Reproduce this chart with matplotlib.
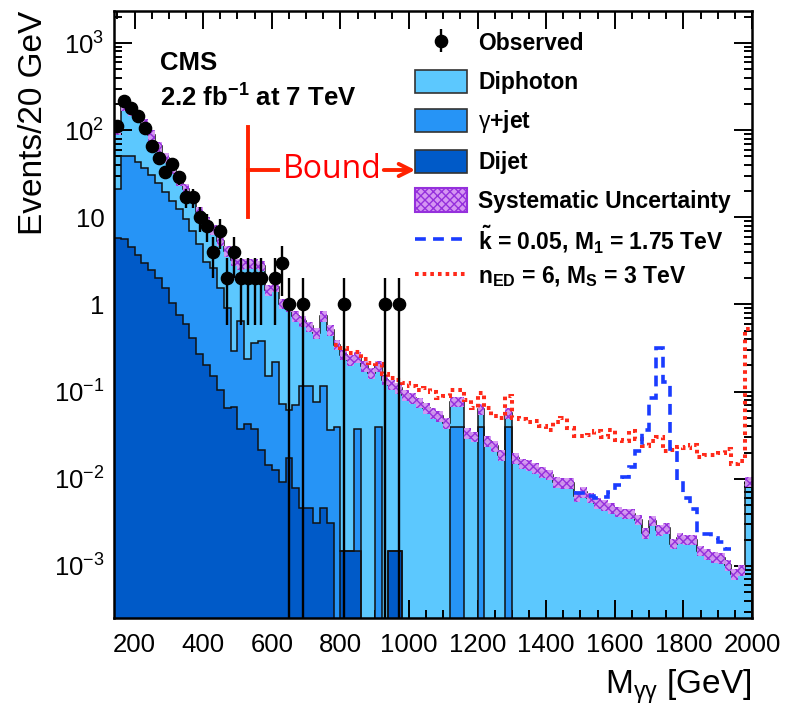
import numpy as np
import matplotlib
matplotlib.use("Agg")
import matplotlib.pyplot as plt
from matplotlib.patches import Patch
from matplotlib.lines import Line2D
from matplotlib.ticker import FixedLocator, FixedFormatter, MultipleLocator, LogLocator, NullFormatter

plt.rcParams['font.family'] = ['Liberation Sans', 'DejaVu Sans']
plt.rcParams['mathtext.fontset'] = 'custom'
plt.rcParams['mathtext.rm'] = 'Liberation Sans'
plt.rcParams['mathtext.bf'] = 'Liberation Sans:bold'
plt.rcParams['mathtext.it'] = 'Liberation Sans:italic'
plt.rcParams['hatch.linewidth'] = 1.0

# ---------------- data ----------------
mass_low, mass_high, bin_width = 140, 2000, 20

dijet = [5.8, 5.6, 4.6, 3.7, 3.0, 2.5, 2.0, 1.55, 1.05, 0.75,
         0.59, 0.41, 0.27, 0.2, 0.15, 0.105, 0.065, 0.066, 0.037, 0.042,
         0.037, 0.0215, 0.0144, 0.0127, 0.0093, 0.0173, 0.0078, 0.0046, 0.0046, 0.0031,
         0.0046, 0.0031, 0.0, 0.0015, 0.0015, 0.0015, 0.0, 0.0, 0.0, 0.0,
         0.0015, 0.0015, 0.0, 0.0, 0.0, 0.0, 0.0, 0.0, 0.0, 0.0,
         0.0, 0.0, 0.0, 0.0, 0.0, 0.0, 0.0, 0.0, 0.0, 0.0,
         0.0, 0.0, 0.0, 0.0, 0.0, 0.0, 0.0, 0.0, 0.0, 0.0,
         0.0, 0.0, 0.0, 0.0, 0.0, 0.0, 0.0, 0.0, 0.0, 0.0,
         0.0, 0.0, 0.0, 0.0, 0.0, 0.0, 0.0, 0.0, 0.0, 0.0,
         0.0, 0.0, 0.0]

gamma_jet = [15.2, 44.4, 46.4, 39.3, 34.0, 28.5, 23.0, 17.9, 14.4, 11.7,
             8.9, 6.6, 4.7, 2.9, 2.45, 1.45, 0.845, 0.224, 0.613, 0.198,
             0.323, 0.356, 0.135, 0.209, 0.062, 0.045, 0.063, 0.110, 0.110, 0.074,
             0.110, 0.033, 0.039, 0.0, 0.0, 0.036, 0.0, 0.0, 0.039, 0.0,
             0.0, 0.0, 0.0, 0.0, 0.0, 0.0, 0.0, 0.0, 0.0, 0.039,
             0.039, 0.0, 0.0, 0.039, 0.0, 0.0, 0.0, 0.039, 0.0, 0.0,
             0.0, 0.0, 0.0, 0.0, 0.0, 0.0, 0.0, 0.0, 0.0, 0.0,
             0.0, 0.0, 0.0, 0.0, 0.0, 0.0, 0.0, 0.0, 0.0, 0.0,
             0.0, 0.0, 0.0, 0.0, 0.0, 0.0, 0.0, 0.0, 0.0, 0.0,
             0.0, 0.0, 0.0]

diphoton = [82, 145, 117, 107, 80, 56, 40, 29, 21.5, 14.5,
            11.5, 10.0, 6.5, 5.7, 4.6, 3.85, 3.19, 2.91, 2.25, 2.71,
            2.59, 2.42, 1.30, 1.38, 0.95, 0.89, 0.66, 0.525, 0.445, 0.393,
            0.615, 0.474, 0.306, 0.2635, 0.2305, 0.2095, 0.195, 0.163, 0.156, 0.137,
            0.1185, 0.1085, 0.092, 0.084, 0.075, 0.065, 0.0567, 0.052, 0.0435, 0.038,
            0.038, 0.0335, 0.0306, 0.0245, 0.027, 0.0236, 0.0188, 0.0177, 0.0173, 0.0149,
            0.0144, 0.0133, 0.0120, 0.0112, 0.0092, 0.0090, 0.0089, 0.0063, 0.0070, 0.0061,
            0.0053, 0.0050, 0.0046, 0.0042, 0.0040, 0.0040, 0.0034, 0.0024, 0.0033, 0.0026,
            0.0027, 0.0018, 0.0021, 0.0020, 0.0020, 0.0015, 0.00137, 0.00126, 0.00124, 0.00103,
            0.00080, 0.00090, 0.0093]

syst_fraction = 0.14

obs_mass = [150, 170, 190, 210, 230, 250, 270, 290, 310, 330, 350, 370, 390, 410, 430,
            450, 470, 490, 510, 530, 550, 570, 610, 630, 650, 690, 810, 930, 970]
obs_count = [113, 217, 178, 146, 105, 65, 48, 33, 41, 29, 17, 17, 10, 8, 4,
             7, 2, 4, 2, 2, 2, 2, 2, 3, 1, 1, 1, 1, 1]

# ADD (n_ED = 6, M_S = 3 TeV) signal + background, from 780 GeV
add_start = 780
add_total = [0.34, 0.315, 0.28, 0.285, 0.24, 0.215, 0.205, 0.16, 0.145, 0.135,
             0.125, 0.115, 0.105, 0.11, 0.10, 0.085, 0.09, 0.105, 0.105, 0.08,
             0.065, 0.096, 0.065, 0.052, 0.05, 0.09, 0.05, 0.049, 0.045, 0.046,
             0.04, 0.036, 0.045, 0.05, 0.038, 0.031, 0.031, 0.032, 0.035, 0.030,
             0.036, 0.028, 0.027, 0.035, 0.029, 0.024, 0.027, 0.030, 0.021, 0.0216,
             0.023, 0.0225, 0.0246, 0.018, 0.019, 0.0188, 0.0196, 0.022, 0.0146, 0.016,
             0.53]

# RS graviton (k~ = 0.05, M1 = 1.75 TeV) signal + background, from 1480 GeV
rs_start = 1480
rs_total = [0.0068, 0.0068, 0.0063, 0.0060, 0.0062, 0.0070, 0.0085, 0.0105, 0.0135, 0.021,
            0.036, 0.085, 0.315, 0.13, 0.022, 0.0095, 0.006, 0.0045, 0.0023, 0.0023,
            0.0021, 0.0019, 0.00155]

ytick_vals = [1e-3, 1e-2, 1e-1, 1, 10, 100, 1000]
ytick_labels = ['10$^{-3}$', '10$^{-2}$', '10$^{-1}$', '1', '10', '10$^{2}$', '10$^{3}$']
xtick_vals = [200, 400, 600, 800, 1000, 1200, 1400, 1600, 1800, 2000]

# ---------------- style ----------------
c_diphoton = '#5cc8fe'
c_gjet = '#2694f6'
c_dijet = '#005ac8'
c_band_face = '#d596f2'
c_band_hatch = '#9530dc'
c_add = '#ff2a1a'
c_rs = '#1a3cff'
ls_add = (0, (0.9, 1.0))
ls_rs = (0, (3.0, 2.0))

W, H = 793, 706
fig = plt.figure(figsize=(W / 100, H / 100), dpi=100)
ax_l, ax_r, ax_t, ax_b = 114, 752, 11, 618
ax = fig.add_axes([ax_l / W, 1 - ax_b / H, (ax_r - ax_l) / W, (ax_b - ax_t) / H])

edges = np.arange(mass_low, mass_high + bin_width, bin_width)
floor = 1e-6
d = np.array(dijet)
g = np.array(gamma_jet)
p = np.array(diphoton)
cum1 = d
cum2 = d + g
cum3 = d + g + p

for vals, col, z in [(cum3, c_diphoton, 1), (cum2, c_gjet, 2), (cum1, c_dijet, 3)]:
    ax.stairs(np.maximum(vals, floor), edges, baseline=floor, fill=True,
              facecolor=col, edgecolor='none', zorder=z)
for vals in [cum3, cum2, cum1]:
    ax.stairs(np.maximum(vals, floor), edges, baseline=floor, fill=False,
              color='#111111', lw=1.1, zorder=4)

# systematic band
ax.stairs(cum3 * (1 + syst_fraction), edges, baseline=cum3 * (1 - syst_fraction),
          fill=True, facecolor=c_band_face, edgecolor='none', alpha=0.95, zorder=5)
ax.stairs(cum3 * (1 + syst_fraction), edges, baseline=cum3 * (1 - syst_fraction),
          fill=True, facecolor='none', edgecolor=c_band_hatch, hatch='xxxx', lw=0, zorder=5)

# signal lines
i_add = (add_start - mass_low) // bin_width
ax.stairs(add_total, edges[i_add:i_add + len(add_total) + 1], baseline=None,
          color=c_add, lw=2.9, linestyle=ls_add, zorder=6)
i_rs = (rs_start - mass_low) // bin_width
ax.stairs(rs_total, edges[i_rs:i_rs + len(rs_total) + 1], baseline=None,
          color=c_rs, lw=2.6, linestyle=ls_rs, zorder=6)

# observed
oc = np.array(obs_count, dtype=float)
err = np.sqrt(oc)
lower = np.minimum(err, oc - 1e-6)
obs = ax.errorbar(obs_mass, oc, yerr=[lower, err], fmt='o', color='black',
                  ms=8.8, elinewidth=1.7, capsize=0, zorder=10)

ax.set_yscale('log')
ax.set_xlim(mass_low, mass_high)
ax.set_ylim(2.53e-4, 2330)

ax.yaxis.set_major_locator(FixedLocator(ytick_vals))
ax.yaxis.set_major_formatter(FixedFormatter(ytick_labels))
ax.yaxis.set_minor_locator(LogLocator(base=10, subs=np.arange(2, 10)))
ax.yaxis.set_minor_formatter(NullFormatter())
ax.xaxis.set_major_locator(FixedLocator(xtick_vals))
ax.xaxis.set_minor_locator(MultipleLocator(50))

ax.tick_params(which='both', direction='in', top=True, right=True, width=1.4, colors='black')
ax.tick_params(which='major', length=13, labelsize=18.5)
ax.tick_params(which='minor', length=6)
ax.tick_params(axis='x', which='major', pad=11)
ax.tick_params(axis='y', which='major', pad=7)
for s in ax.spines.values():
    s.set_linewidth(1.8)
    s.set_zorder(20)

ax.set_ylabel('Events/20 GeV', fontsize=24, loc='top', labelpad=3)
ax.set_xlabel(r'M$_{\mathrm{\gamma\gamma}}$ [GeV]', fontsize=24, loc='right', labelpad=7)

# legend (two blocks so the rows keep the reference spacing)
handles_a = [obs,
             Patch(facecolor=c_diphoton, edgecolor='#333333', lw=1.2),
             Patch(facecolor=c_gjet, edgecolor='#333333', lw=1.2),
             Patch(facecolor=c_dijet, edgecolor='#333333', lw=1.2),
             Patch(facecolor=c_band_face, edgecolor=c_band_hatch, hatch='xxxx', lw=1.5)]
labels_a = ['Observed', 'Diphoton', r'$\mathrm{\gamma}$+jet', 'Dijet', 'Systematic Uncertainty']
handles_b = [Line2D([], [], color=c_rs, lw=2.6, linestyle=ls_rs),
             Line2D([], [], color=c_add, lw=2.9, linestyle=ls_add)]
labels_b = [r'$\mathbf{\tilde{k}}$ = 0.05, M$_{\mathbf{1}}$ = 1.75 TeV',
            r'n$_{\mathbf{ED}}$ = 6, M$_{\mathbf{S}}$ = 3 TeV']
common = dict(loc='upper left', frameon=False, borderpad=0, borderaxespad=0,
              handlelength=2.27, handleheight=1.2, handletextpad=0.48,
              prop={'weight': 'bold', 'size': 16.5})
leg_a = ax.legend(handles_a, labels_a, labelspacing=0.62,
                  bbox_to_anchor=((415 - ax_l) / (ax_r - ax_l), (ax_b - 31) / (ax_b - ax_t)),
                  **common)
leg_a.set_zorder(30)
ax.add_artist(leg_a)
leg_b = ax.legend(handles_b, labels_b, labelspacing=0.4,
                  bbox_to_anchor=((415 - ax_l) / (ax_r - ax_l), (ax_b - 223) / (ax_b - ax_t)),
                  **common)
leg_b.set_zorder(30)

# CMS label
fig.text(160 / W, 1 - 63 / H, 'CMS', fontsize=18.5, fontweight='bold', va='center', ha='left')
fig.text(160 / W, 1 - 98 / H, r'2.2 fb$^{\mathbf{-1}}$ at 7 TeV', fontsize=18.5,
         fontweight='bold', va='center', ha='left')

# "Bound" annotation
red = '#ff2200'
fig.add_artist(Line2D([248 / W, 248 / W], [1 - 127 / H, 1 - 217 / H], color=red, lw=2.8))
fig.add_artist(Line2D([248 / W, 278 / W], [1 - 170 / H, 1 - 170 / H], color=red, lw=2.8))
fig.text(283 / W, 1 - 170 / H, 'Bound', color='#ff0000', fontsize=23, family='Open Sans',
         va='center', ha='left')
ax.annotate('', xy=(418 / W, 1 - 170 / H), xytext=(381 / W, 1 - 170 / H),
            xycoords='figure fraction', textcoords='figure fraction',
            arrowprops=dict(arrowstyle='->', color=red, lw=2.8, mutation_scale=22))

fig.savefig('out.png', dpi=100)
